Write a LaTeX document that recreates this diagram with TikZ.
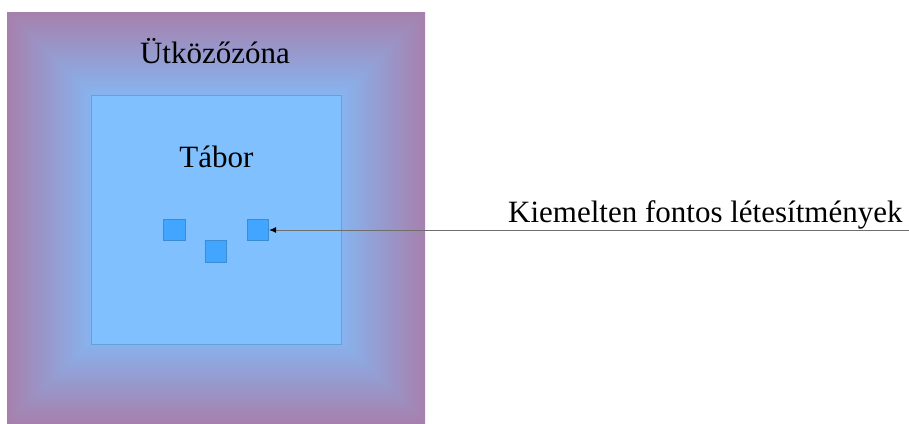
\documentclass[tikz,border=0pt]{standalone}
\usepackage{fontspec}
\setmainfont{Liberation Serif}
\usetikzlibrary{arrows.meta}
\pgfdeclarefunctionalshading{squaregrad}{\pgfpoint{-50bp}{-50bp}}{\pgfpoint{50bp}{50bp}}{}{
abs exch abs 2 copy lt {exch} if pop
25 div 0.5 sub 0.5 div
dup 0 lt {pop 0} if
dup 1 gt {pop 1} if
dup 0.149 mul 0.502 add
exch dup -0.251 mul 0.753 add
exch -0.325 mul 1 add
}
\definecolor{campfill}{RGB}{128,192,255}
\definecolor{campdraw}{RGB}{104,160,214}
\definecolor{sitefill}{RGB}{66,165,255}
\definecolor{sitedraw}{RGB}{60,140,210}
\definecolor{leader}{RGB}{110,110,110}
\tikzset{
  zone/.style={rectangle, inner sep=0pt, shading=squaregrad, minimum width=418pt, minimum height=411pt},
  camp/.style={rectangle, inner sep=0pt, fill=campfill, draw=campdraw, line width=1pt, minimum width=250pt, minimum height=249pt},
  site/.style={rectangle, inner sep=0pt, fill=sitefill, draw=sitedraw, line width=0.8pt, minimum size=21.5pt},
  lbl/.style={font=\fontsize{31pt}{36pt}\selectfont, inner sep=0pt, text=black},
  leaderline/.style={draw=leader, line width=0.8pt, -{Latex[black,length=7pt,width=6pt]}}
}
\begin{document}
\begin{tikzpicture}[x=1pt,y=-1pt]
\useasboundingbox (0,0) rectangle (909,423);
\node[zone] (zone) at (216,217.5) {};
\node[camp] (camp) at (216,219.5) {};
\node[lbl, anchor=base] (zonelbl) at (215,63) {Ütközőzóna};
\node[lbl, anchor=base] (camplbl) at (216.5,167) {Tábor};
\node[site] (s1) at (174.5,230) {};
\node[site] (s2) at (216,251.5) {};
\node[site] (s3) at (258,230) {};
\coordinate (lend) at (909,230);
\draw[leaderline] (lend) -- (s3.east);
\node[lbl, anchor=base west] (sitelbl) at (508,222) {Kiemelten fontos létesítmények};
\end{tikzpicture}
\end{document}
